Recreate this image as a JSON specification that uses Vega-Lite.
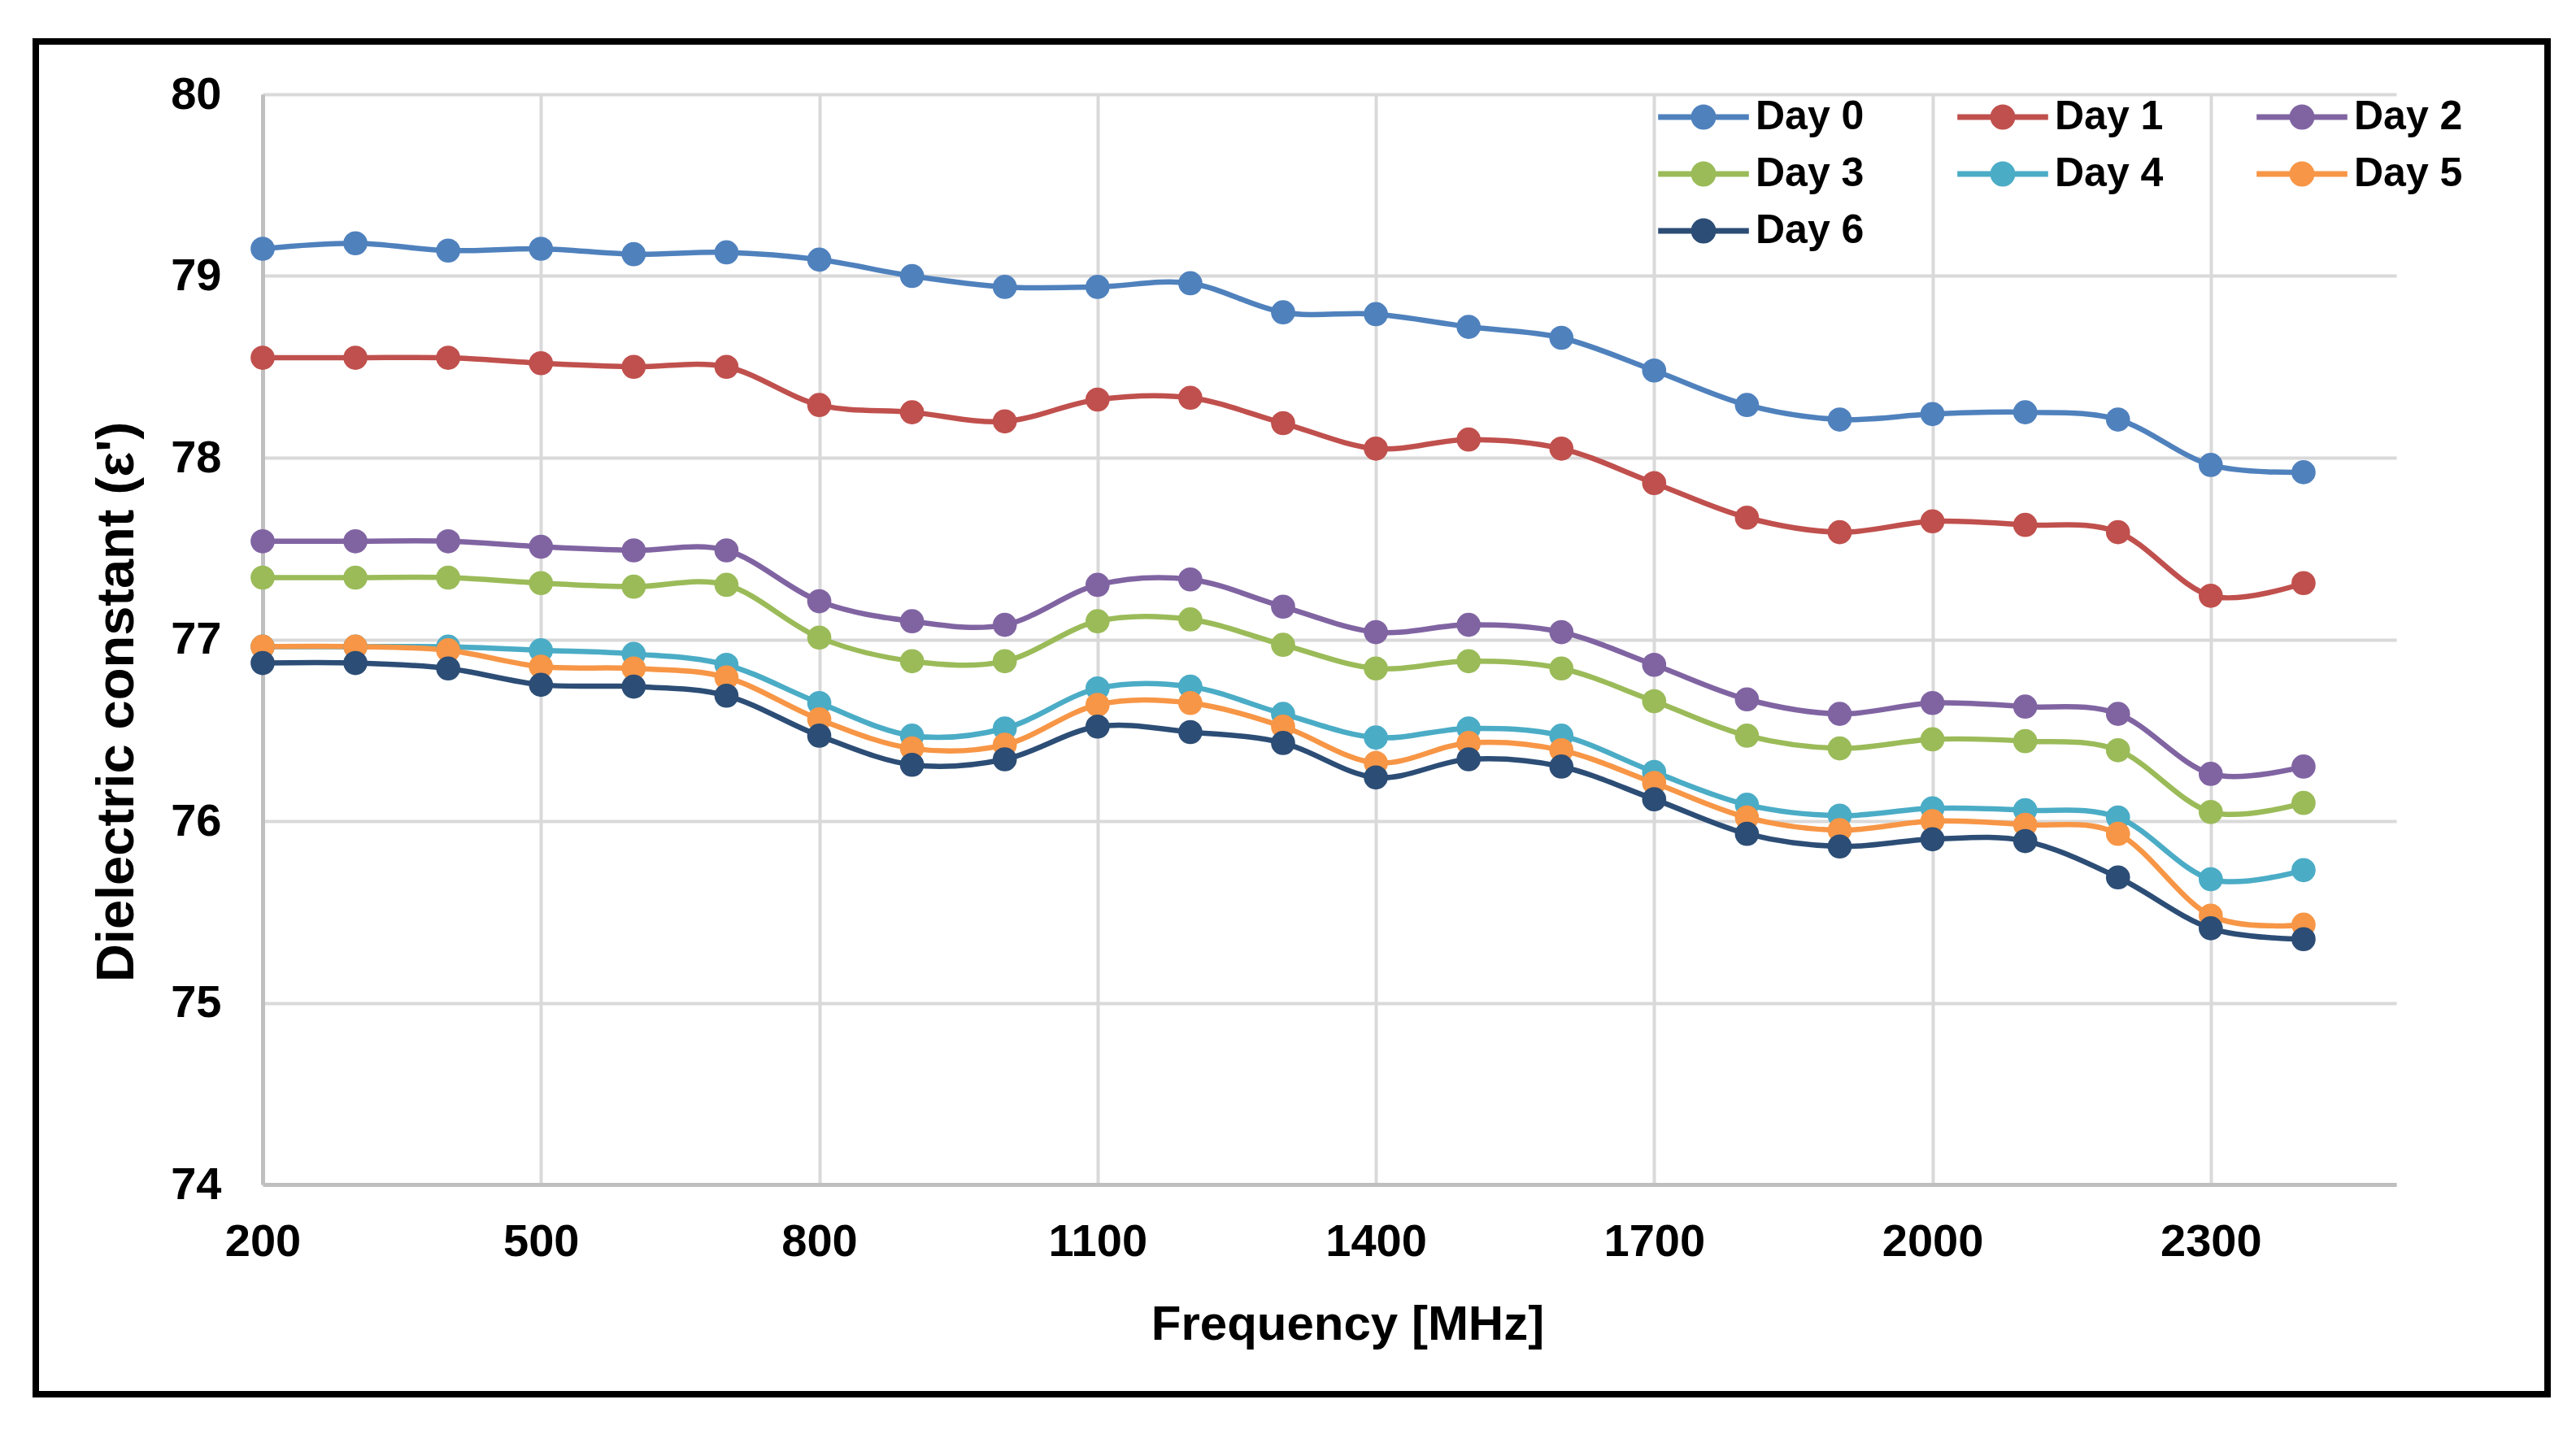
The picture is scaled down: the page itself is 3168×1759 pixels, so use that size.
{
  "$schema": "https://vega.github.io/schema/vega-lite/v6.json",
  "autosize": "none",
  "width": 3089,
  "height": 1664,
  "padding": {"left": 44, "top": 51, "right": 35, "bottom": 44},
  "background": "white",
  "config": {
    "view": {"stroke": "black", "strokeWidth": 8, "fill": "white"},
    "font": "Liberation Sans"
  },
  "data": {
    "values": [
      {"f":200,"day":"Day 0","v":79.15},{"f":300,"day":"Day 0","v":79.18},{"f":400,"day":"Day 0","v":79.14},{"f":500,"day":"Day 0","v":79.15},{"f":600,"day":"Day 0","v":79.12},{"f":700,"day":"Day 0","v":79.13},{"f":800,"day":"Day 0","v":79.09},{"f":900,"day":"Day 0","v":79.00},{"f":1000,"day":"Day 0","v":78.94},{"f":1100,"day":"Day 0","v":78.94},{"f":1200,"day":"Day 0","v":78.96},{"f":1300,"day":"Day 0","v":78.80},{"f":1400,"day":"Day 0","v":78.79},{"f":1500,"day":"Day 0","v":78.72},{"f":1600,"day":"Day 0","v":78.66},{"f":1700,"day":"Day 0","v":78.48},{"f":1800,"day":"Day 0","v":78.29},{"f":1900,"day":"Day 0","v":78.21},{"f":2000,"day":"Day 0","v":78.24},{"f":2100,"day":"Day 0","v":78.25},{"f":2200,"day":"Day 0","v":78.21},{"f":2300,"day":"Day 0","v":77.96},{"f":2400,"day":"Day 0","v":77.92},
      {"f":200,"day":"Day 1","v":78.55},{"f":300,"day":"Day 1","v":78.55},{"f":400,"day":"Day 1","v":78.55},{"f":500,"day":"Day 1","v":78.52},{"f":600,"day":"Day 1","v":78.50},{"f":700,"day":"Day 1","v":78.50},{"f":800,"day":"Day 1","v":78.29},{"f":900,"day":"Day 1","v":78.25},{"f":1000,"day":"Day 1","v":78.20},{"f":1100,"day":"Day 1","v":78.32},{"f":1200,"day":"Day 1","v":78.33},{"f":1300,"day":"Day 1","v":78.19},{"f":1400,"day":"Day 1","v":78.05},{"f":1500,"day":"Day 1","v":78.10},{"f":1600,"day":"Day 1","v":78.05},{"f":1700,"day":"Day 1","v":77.86},{"f":1800,"day":"Day 1","v":77.67},{"f":1900,"day":"Day 1","v":77.59},{"f":2000,"day":"Day 1","v":77.65},{"f":2100,"day":"Day 1","v":77.63},{"f":2200,"day":"Day 1","v":77.59},{"f":2300,"day":"Day 1","v":77.24},{"f":2400,"day":"Day 1","v":77.31},
      {"f":200,"day":"Day 2","v":77.54},{"f":300,"day":"Day 2","v":77.54},{"f":400,"day":"Day 2","v":77.54},{"f":500,"day":"Day 2","v":77.51},{"f":600,"day":"Day 2","v":77.49},{"f":700,"day":"Day 2","v":77.49},{"f":800,"day":"Day 2","v":77.21},{"f":900,"day":"Day 2","v":77.10},{"f":1000,"day":"Day 2","v":77.08},{"f":1100,"day":"Day 2","v":77.30},{"f":1200,"day":"Day 2","v":77.33},{"f":1300,"day":"Day 2","v":77.18},{"f":1400,"day":"Day 2","v":77.04},{"f":1500,"day":"Day 2","v":77.08},{"f":1600,"day":"Day 2","v":77.04},{"f":1700,"day":"Day 2","v":76.86},{"f":1800,"day":"Day 2","v":76.67},{"f":1900,"day":"Day 2","v":76.59},{"f":2000,"day":"Day 2","v":76.65},{"f":2100,"day":"Day 2","v":76.63},{"f":2200,"day":"Day 2","v":76.59},{"f":2300,"day":"Day 2","v":76.26},{"f":2400,"day":"Day 2","v":76.30},
      {"f":200,"day":"Day 3","v":77.34},{"f":300,"day":"Day 3","v":77.34},{"f":400,"day":"Day 3","v":77.34},{"f":500,"day":"Day 3","v":77.31},{"f":600,"day":"Day 3","v":77.29},{"f":700,"day":"Day 3","v":77.30},{"f":800,"day":"Day 3","v":77.01},{"f":900,"day":"Day 3","v":76.88},{"f":1000,"day":"Day 3","v":76.88},{"f":1100,"day":"Day 3","v":77.10},{"f":1200,"day":"Day 3","v":77.11},{"f":1300,"day":"Day 3","v":76.97},{"f":1400,"day":"Day 3","v":76.84},{"f":1500,"day":"Day 3","v":76.88},{"f":1600,"day":"Day 3","v":76.84},{"f":1700,"day":"Day 3","v":76.66},{"f":1800,"day":"Day 3","v":76.47},{"f":1900,"day":"Day 3","v":76.40},{"f":2000,"day":"Day 3","v":76.45},{"f":2100,"day":"Day 3","v":76.44},{"f":2200,"day":"Day 3","v":76.39},{"f":2300,"day":"Day 3","v":76.05},{"f":2400,"day":"Day 3","v":76.10},
      {"f":200,"day":"Day 4","v":76.96},{"f":300,"day":"Day 4","v":76.96},{"f":400,"day":"Day 4","v":76.96},{"f":500,"day":"Day 4","v":76.94},{"f":600,"day":"Day 4","v":76.92},{"f":700,"day":"Day 4","v":76.86},{"f":800,"day":"Day 4","v":76.65},{"f":900,"day":"Day 4","v":76.47},{"f":1000,"day":"Day 4","v":76.51},{"f":1100,"day":"Day 4","v":76.73},{"f":1200,"day":"Day 4","v":76.74},{"f":1300,"day":"Day 4","v":76.59},{"f":1400,"day":"Day 4","v":76.46},{"f":1500,"day":"Day 4","v":76.51},{"f":1600,"day":"Day 4","v":76.47},{"f":1700,"day":"Day 4","v":76.27},{"f":1800,"day":"Day 4","v":76.09},{"f":1900,"day":"Day 4","v":76.03},{"f":2000,"day":"Day 4","v":76.07},{"f":2100,"day":"Day 4","v":76.06},{"f":2200,"day":"Day 4","v":76.02},{"f":2300,"day":"Day 4","v":75.68},{"f":2400,"day":"Day 4","v":75.73},
      {"f":200,"day":"Day 5","v":76.96},{"f":300,"day":"Day 5","v":76.96},{"f":400,"day":"Day 5","v":76.94},{"f":500,"day":"Day 5","v":76.85},{"f":600,"day":"Day 5","v":76.84},{"f":700,"day":"Day 5","v":76.79},{"f":800,"day":"Day 5","v":76.56},{"f":900,"day":"Day 5","v":76.40},{"f":1000,"day":"Day 5","v":76.42},{"f":1100,"day":"Day 5","v":76.64},{"f":1200,"day":"Day 5","v":76.65},{"f":1300,"day":"Day 5","v":76.52},{"f":1400,"day":"Day 5","v":76.32},{"f":1500,"day":"Day 5","v":76.43},{"f":1600,"day":"Day 5","v":76.39},{"f":1700,"day":"Day 5","v":76.21},{"f":1800,"day":"Day 5","v":76.02},{"f":1900,"day":"Day 5","v":75.95},{"f":2000,"day":"Day 5","v":76.00},{"f":2100,"day":"Day 5","v":75.98},{"f":2200,"day":"Day 5","v":75.93},{"f":2300,"day":"Day 5","v":75.48},{"f":2400,"day":"Day 5","v":75.43},
      {"f":200,"day":"Day 6","v":76.87},{"f":300,"day":"Day 6","v":76.87},{"f":400,"day":"Day 6","v":76.84},{"f":500,"day":"Day 6","v":76.75},{"f":600,"day":"Day 6","v":76.74},{"f":700,"day":"Day 6","v":76.69},{"f":800,"day":"Day 6","v":76.47},{"f":900,"day":"Day 6","v":76.31},{"f":1000,"day":"Day 6","v":76.34},{"f":1100,"day":"Day 6","v":76.52},{"f":1200,"day":"Day 6","v":76.49},{"f":1300,"day":"Day 6","v":76.43},{"f":1400,"day":"Day 6","v":76.24},{"f":1500,"day":"Day 6","v":76.34},{"f":1600,"day":"Day 6","v":76.30},{"f":1700,"day":"Day 6","v":76.12},{"f":1800,"day":"Day 6","v":75.93},{"f":1900,"day":"Day 6","v":75.86},{"f":2000,"day":"Day 6","v":75.90},{"f":2100,"day":"Day 6","v":75.89},{"f":2200,"day":"Day 6","v":75.69},{"f":2300,"day":"Day 6","v":75.41},{"f":2400,"day":"Day 6","v":75.35}
    ]
  },
  "encoding": {
    "x": {
      "field": "f", "type": "quantitative",
      "scale": {"domain": [200, 2500], "range": [279, 2903], "nice": false, "zero": false},
      "axis": {
        "orient": "top", "offset": -1406,
        "values": [200, 500, 800, 1100, 1400, 1700, 2000, 2300],
        "format": "d",
        "grid": true, "gridColor": "#d9d9d9", "gridWidth": 4,
        "domain": true, "domainColor": "#bfbfbf", "domainWidth": 5,
        "ticks": false, "tickSize": 0,
        "labelPadding": -87, "labelBaseline": "alphabetic", "labelAlign": "center",
        "labelFont": "Liberation Sans", "labelFontSize": 56, "labelFontWeight": "bold", "labelColor": "black",
        "labelFlush": false, "labelOverlap": false,
        "title": "Frequency [MHz]",
        "titleFont": "Liberation Sans", "titleFontSize": 60, "titleFontWeight": "bold", "titleColor": "black",
        "titleX": 1613, "titleY": 190, "titleBaseline": "alphabetic", "titleAlign": "center", "titleAngle": 0
      }
    },
    "y": {
      "field": "v", "type": "quantitative",
      "scale": {"domain": [74, 80], "range": [1406, 65], "nice": false, "zero": false},
      "axis": {
        "orient": "left", "offset": -279,
        "values": [74, 75, 76, 77, 78, 79, 80],
        "format": "d",
        "grid": true, "gridColor": "#d9d9d9", "gridWidth": 4,
        "domain": true, "domainColor": "#bfbfbf", "domainWidth": 5,
        "ticks": false, "tickSize": 0,
        "labelPadding": 51, "labelAlign": "right", "labelBaseline": "middle",
        "labelFont": "Liberation Sans", "labelFontSize": 56, "labelFontWeight": "bold", "labelColor": "black",
        "labelFlush": false, "labelOverlap": false,
        "title": "Dielectric constant (ε')",
        "titleFont": "Liberation Sans", "titleFontSize": 65, "titleFontWeight": "bold", "titleColor": "black",
        "titleX": -160, "titleY": 812, "titleAngle": 270, "titleBaseline": "alphabetic", "titleAlign": "center"
      }
    },
    "color": {
      "field": "day", "type": "nominal",
      "scale": {
        "domain": ["Day 0", "Day 1", "Day 2", "Day 3", "Day 4", "Day 5", "Day 6"],
        "range": ["#4F81BD", "#C0504D", "#8064A2", "#9BBB59", "#4BACC6", "#F79646", "#2C4D75"]
      },
      "legend": {
        "title": null,
        "orient": "none", "legendX": 1986, "legendY": 68,
        "direction": "horizontal", "columns": 3,
        "columnPadding": 100, "rowPadding": 18,
        "symbolType": "M-3.6,0L3.6,0M0.77,0A0.77,0.77,0,1,1,-0.77,0A0.77,0.77,0,1,1,0.77,0Z",
        "symbolSize": 961, "symbolStrokeWidth": 7, "symbolOffset": 40,
        "labelOffset": 39,
        "labelFont": "Liberation Sans", "labelFontSize": 50, "labelFontWeight": "bold", "labelColor": "black",
        "labelBaseline": "middle",
        "encode": {
          "symbols": {
            "update": {
              "fill": {"scale": "color", "field": "value"},
              "stroke": {"scale": "color", "field": "value"},
              "strokeWidth": {"value": 7},
              "opacity": {"value": 1},
              "fillOpacity": {"value": 1}
            }
          }
        }
      }
    }
  },
  "layer": [
    {"mark": {"type": "line", "strokeWidth": 6.5, "interpolate": "cardinal", "tension": 0}},
    {"mark": {"type": "point", "filled": true, "size": 880, "opacity": 1, "strokeWidth": 0}}
  ]
}
